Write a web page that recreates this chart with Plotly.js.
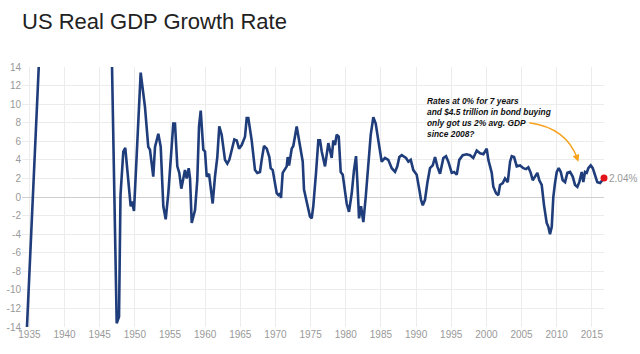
<!DOCTYPE html>
<html>
<head>
<meta charset="utf-8">
<script src="https://cdn.plot.ly/plotly-3.0.1.min.js"></script>
<style>html,body{margin:0;padding:0;background:#fff;}#chart{width:640px;height:354px;}</style>
</head>
<body>
<div id="chart"></div>
<script>
// Decimal years and YoY real GDP growth (%)
var years = [
1934.25,1935.65,1936.75,1938.75,1941.75,1944.75,1946.5,
1947.42,1947.75,1947.96,1948.36,1948.64,1949.41,1949.59,1949.88,1950.83,1951.44,1951.91,1952.15,1952.62,1952.87,
1953.34,1953.68,1954.05,1954.39,1954.76,1955.24,1955.47,1955.71,1956.04,1956.32,1956.61,1957.13,1957.38,1957.66,
1957.85,1958.09,1958.56,1958.88,1959.13,1959.37,1959.74,1959.98,1960.22,1960.55,1961.07,1961.40,1961.73,1962.01,
1962.35,1962.82,1963.15,1963.44,1963.78,1964.15,1964.49,1964.82,1965.20,1965.67,1965.91,1966.14,1966.62,1967.09,
1967.42,1967.80,1968.04,1968.37,1968.76,1969.13,1969.32,1969.61,1970.18,1970.41,1970.65,1970.79,1971.03,1971.36,
1971.60,1971.74,1971.93,1972.31,1972.54,1973.02,1973.35,1973.63,1973.88,1974.06,1974.30,1974.53,1974.91,1975.16,
1975.38,1975.77,1976.10,1976.34,1976.58,1977.05,1977.52,1978.00,1978.23,1978.47,1978.71,1979.00,1979.28,1979.57,
1979.79,1980.13,1980.46,1980.85,1981.17,1981.46,1981.64,1981.89,1982.17,1982.50,1982.84,1983.21,1983.55,1983.92,
1984.26,1984.63,1985.11,1985.58,1986.05,1986.54,1987.01,1987.33,1987.62,1987.96,1988.29,1988.57,1988.90,1989.24,
1989.61,1990.09,1990.46,1990.70,1990.95,1991.27,1991.60,1991.98,1992.37,1992.70,1993.02,1993.41,1993.88,1994.26,
1994.59,1995.07,1995.40,1995.78,1996.15,1996.64,1997.20,1997.67,1998.14,1998.63,1999.10,1999.57,2000.05,2000.28,
2000.76,2000.99,2001.38,2001.70,2001.94,2002.33,2002.65,2003.04,2003.37,2003.61,2003.94,2004.32,2004.79,2005.26,
2005.64,2005.97,2006.31,2006.59,2006.92,2007.25,2007.53,2007.87,2008.20,2008.58,2008.81,2009.05,2009.30,2009.52,
2009.76,2010.01,2010.29,2010.58,2010.86,2011.19,2011.52,2011.90,2012.28,2012.61,2012.94,2013.22,2013.56,2013.79,
2014.03,2014.27,2014.50,2014.84,2015.13,2015.46,2015.78,2016.17,2016.55,2016.73
];
var growth = [
-20.8,3.1,21,21,22,22,24.6,
-13.6,-12.9,0.2,4.9,5.3,-1.0,-0.5,-1.5,13.4,9.7,5.4,5.1,2.2,5.4,
6.8,5.4,-1.0,-2.4,0.4,6.1,7.9,7.9,3.3,2.6,0.9,2.9,2.0,3.1,
2.0,-2.8,-1.4,1.8,7.6,9.3,5.1,4.9,2.2,2.5,-0.7,2.2,4.3,7.6,
6.7,4.0,3.6,4.0,5.1,6.2,6.1,5.2,5.6,6.5,8.5,8.5,6.1,2.9,
2.6,2.7,4.0,5.5,5.2,4.3,3.1,2.9,0.4,0.2,0.4,-0.1,2.6,3.1,
3.3,4.3,3.4,5.2,5.5,7.6,6.1,4.7,3.8,0.8,-0.1,-0.7,-2.1,-2.3,
-1.0,2.6,6.1,6.1,4.9,3.3,5.8,4.2,6.1,5.6,6.7,6.5,2.7,2.4,
1.3,-0.7,-1.6,0.4,2.9,4.4,1.8,-2.3,-1.0,-2.7,0.0,3.3,6.7,8.6,
7.9,6.1,3.8,4.2,4.0,3.1,2.7,3.3,4.3,4.5,4.3,4.2,3.8,4.0,
2.9,2.4,0.8,-0.3,-0.9,-0.3,1.5,3.1,3.4,4.3,3.3,2.5,4.2,4.4,
3.8,2.6,2.7,2.4,4.0,4.5,4.6,4.5,4.2,5.0,4.7,4.6,5.2,4.0,
2.6,1.1,0.4,0.2,1.3,1.5,2.0,1.6,3.8,4.4,4.3,3.3,3.4,3.1,
3.0,3.2,2.6,1.8,2.2,2.6,1.8,1.3,-0.9,-2.8,-3.2,-4.0,-3.2,0.0,
1.5,2.7,3.1,2.7,1.8,1.6,2.6,2.7,2.2,1.3,1.1,1.6,2.7,1.6,
2.7,2.6,3.1,3.4,3.1,2.2,1.6,1.5,1.9,2.04
];
var xTickStart = 1935;
var yTickValues = [-14,-12,-10,-8,-6,-4,-2,0,2,4,6,8,10,12,14];
var chartTitle = 'US Real GDP Growth Rate';
var noteLines = ['Rates at 0% for 7 years', 'and $4.5 trillion in bond buying', 'only got us 2% avg. GDP', 'since 2008?'];

var lastX = years[years.length - 1];
var lastY = growth[growth.length - 1];

var traces = [
  {x: years, y: growth, type: 'scatter', mode: 'lines',
   line: {color: '#1f3d7a', width: 2.6, shape: 'linear'}, hoverinfo: 'x+y'},
  {x: [lastX], y: [lastY], type: 'scatter', mode: 'markers', cliponaxis: false,
   marker: {color: '#e3131b', size: 7}}
];

var layout = {
  width: 640, height: 354,
  margin: {l: 22, r: 36, t: 67, b: 27},
  paper_bgcolor: '#fff', plot_bgcolor: '#fff',
  showlegend: false,
  font: {family: 'Liberation Sans, Arial, sans-serif', color: '#999', size: 10},
  title: {text: chartTitle, x: 22/640, xref: 'container', xanchor: 'left',
          y: 1 - 21/354, yref: 'container', yanchor: 'middle',
          font: {family: 'Liberation Sans, Arial, sans-serif', size: 22, color: '#222'}},
  xaxis: {range: [1933.95, 2016.73], tick0: xTickStart, dtick: 5, tickmode: 'linear',
          showgrid: true, gridcolor: '#ececec', gridwidth: 1, zeroline: false,
          showline: false, ticks: '', tickfont: {size: 10, color: '#999'}, fixedrange: true},
  yaxis: {range: [-14, 14], tickvals: yTickValues, ticktext: yTickValues.map(String),
          showgrid: true, gridcolor: '#ececec', gridwidth: 1,
          zeroline: true, zerolinecolor: '#cfcfcf', zerolinewidth: 1,
          showline: false, ticks: '', tickfont: {size: 10, color: '#999'}, fixedrange: true},
  shapes: [
    {type: 'path', xref: 'x', yref: 'y',
     path: 'M 2006.11 8.0 Q 2011.36 7.45 2012.95 4.15',
     line: {color: '#f7a21b', width: 1.4}}
  ],
  annotations: [
    {x: 1991.2, y: 8.61, xref: 'x', yref: 'y', xanchor: 'left', yanchor: 'middle', align: 'left',
     showarrow: false, text: noteLines.map(function(s){return '<b><i>' + s + '</i></b>';}).join('<br>'),
     font: {family: 'Liberation Sans, Arial, sans-serif', size: 8.4, color: '#111'}},
    {x: 2013.08, y: 3.80, xref: 'x', yref: 'y', text: '', showarrow: true,
     ax: -2.7, ay: -7.5, arrowhead: 2, arrowsize: 1, arrowwidth: 1.4, arrowcolor: '#f7a21b', standoff: 0},
    {x: 1, xref: 'paper', y: lastY, yref: 'y', xanchor: 'left', yanchor: 'middle', xshift: 3,
     showarrow: false, text: lastY.toFixed(2) + '%',
     font: {family: 'Liberation Sans, Arial, sans-serif', size: 10, color: '#999'}}
  ]
};

Plotly.newPlot('chart', traces, layout, {displayModeBar: false, staticPlot: true});
</script>
</body>
</html>
